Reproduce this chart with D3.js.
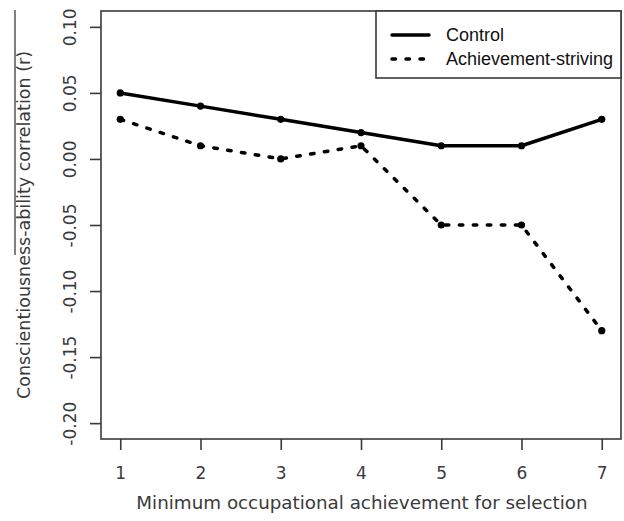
<!DOCTYPE html>
<html><head><meta charset="utf-8">
<script src="https://cdn.jsdelivr.net/npm/d3@7/dist/d3.min.js"></script>
<style>html,body{margin:0;padding:0;background:#fff}svg{display:block}</style>
</head><body><svg id="c" width="624" height="521"></svg>
<script>
const categories = [1, 2, 3, 4, 5, 6, 7];
const control = [0.05, 0.04, 0.03, 0.02, 0.01, 0.01, 0.03];
const achievement = [0.03, 0.01, 0.00, 0.01, -0.05, -0.05, -0.13];
const yTicks = [0.10, 0.05, 0.00, -0.05, -0.10, -0.15, -0.20];
const seriesNames = ["Control", "Achievement-striving"];

const svg = d3.select("#c");
const L = 101, R = 621, T = 11, B = 439;
const x = d3.scaleLinear().domain([0.76, 7.24]).range([L, R]);
const y = d3.scaleLinear().domain([-0.212, 0.112]).range([B, T]);
const txt = "#3a3a3a";
const font = "DejaVu Sans";
const fmt = d => d3.format(".2f")(d).replace("\u2212", "-");

// frame
svg.append("rect").attr("x", L).attr("y", T).attr("width", R - L).attr("height", B - T)
  .attr("fill", "none").attr("stroke", "#3a3a3a").attr("stroke-width", 1.6);

// x axis
const xa = svg.append("g").attr("transform", `translate(0,${B})`)
  .call(d3.axisBottom(x).tickValues(categories).tickSize(11).tickPadding(0).tickFormat(d3.format("d")));
xa.select(".domain").remove();
xa.selectAll("line").attr("stroke", "#3a3a3a").attr("stroke-width", 1.6);
xa.selectAll("text").attr("y", 0).attr("dy", null).attr("transform", "translate(0,40)")
  .attr("font-family", font).attr("font-size", 17).attr("fill", txt);

// y axis
const ya = svg.append("g").attr("transform", `translate(${L},0)`)
  .call(d3.axisLeft(y).tickValues(yTicks).tickSize(11).tickFormat(fmt));
ya.select(".domain").remove();
ya.selectAll("line").attr("stroke", "#3a3a3a").attr("stroke-width", 1.6);
ya.selectAll("text").attr("x", 0).attr("dy", null)
  .attr("transform", "translate(-25,0) rotate(-90)")
  .attr("text-anchor", "middle").attr("dominant-baseline", "auto")
  .attr("font-family", font).attr("font-size", 17).attr("fill", txt);

// axis titles
svg.append("text").attr("x", 362).attr("y", 509).attr("text-anchor", "middle")
  .attr("font-family", font).attr("font-size", 18.3).attr("fill", txt)
  .text("Minimum occupational achievement for selection");
svg.append("text").attr("transform", `translate(30,225) rotate(-90)`).attr("text-anchor", "middle")
  .attr("font-family", font).attr("font-size", 17.5).attr("fill", txt)
  .text("Conscientiousness-ability correlation (r)");
svg.append("line").attr("x1", 15).attr("x2", 15).attr("y1", 10).attr("y2", 255)
  .attr("stroke", "#555").attr("stroke-width", 1.5);

// series
const line = d3.line().x((d, i) => x(categories[i])).y(d => y(d));
svg.append("path").datum(control).attr("d", line).attr("fill", "none")
  .attr("stroke", "#000").attr("stroke-width", 3.5).attr("stroke-linejoin", "round").attr("stroke-linecap", "round");
svg.append("path").datum(achievement).attr("d", line).attr("fill", "none")
  .attr("stroke", "#000").attr("stroke-width", 3.5).attr("stroke-dasharray", "3.5 10.5").attr("stroke-linecap", "round");
[control, achievement].forEach(s => {
  svg.append("g").selectAll("circle").data(s).join("circle")
    .attr("cx", (d, i) => x(categories[i])).attr("cy", d => y(d)).attr("r", 3.6).attr("fill", "#000");
});

// legend
const lg = svg.append("g");
lg.append("rect").attr("x", 376).attr("y", T).attr("width", R - 376).attr("height", 67)
  .attr("fill", "#fff").attr("stroke", "#3a3a3a").attr("stroke-width", 1.6);
const rows = [35, 59];
seriesNames.forEach((n, i) => {
  lg.append("line").attr("x1", 392).attr("x2", 429).attr("y1", rows[i]).attr("y2", rows[i])
    .attr("stroke", "#000").attr("stroke-width", 3.5).attr("stroke-linecap", "round")
    .attr("stroke-dasharray", i === 1 ? "3.5 10.5" : null);
  lg.append("text").attr("x", 446).attr("y", rows[i] + 6).attr("font-family", "Liberation Sans")
    .attr("font-size", 18).attr("fill", "#111").text(n);
});
</script></body></html>
